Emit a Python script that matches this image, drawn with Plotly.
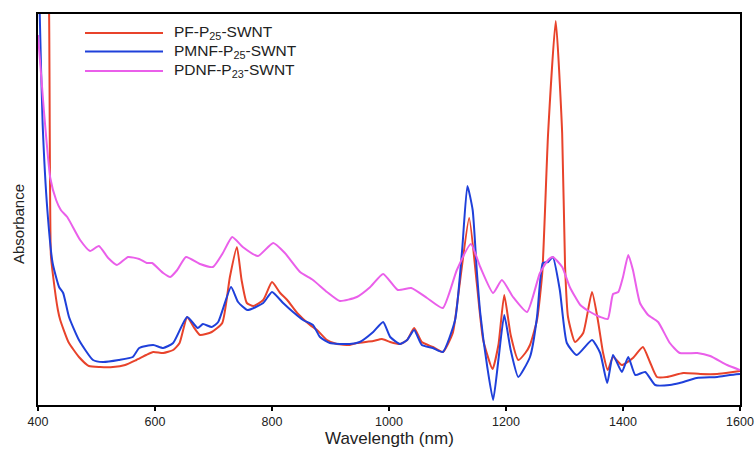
import plotly.graph_objects as go

# ---- data (wavelength in nm, absorbance in arbitrary units) ----
pf_wl = [400, 412, 419, 422, 426, 434, 438, 452, 470, 487, 506, 528, 549, 568, 585, 597, 614, 631,
         642, 655, 666, 677, 697, 715, 728, 740, 748, 757, 768, 785, 800, 814, 826, 843, 865, 877,
         894, 911, 933, 945, 973, 988, 1002, 1019, 1031, 1043, 1056, 1075, 1092, 1109, 1121, 1137,
         1150, 1161, 1177, 1187, 1197, 1208, 1221, 1233, 1241, 1253, 1262, 1272, 1285, 1296, 1301,
         1306, 1318, 1332, 1347, 1357, 1366, 1374, 1383, 1398, 1417, 1434, 1446, 1458, 1475, 1503,
         1532, 1561, 1588, 1600]
pf_abs = [9.0, 6.0, 3.9, 1.50, 1.28, 0.95, 0.85, 0.63, 0.48, 0.39, 0.38, 0.38, 0.40, 0.45, 0.50, 0.53, 0.52, 0.55,
          0.62, 0.88, 0.78, 0.70, 0.73, 0.82, 1.28, 1.58, 1.25, 1.02, 0.99, 1.05, 1.23, 1.12, 1.05, 0.92, 0.80, 0.75,
          0.65, 0.61, 0.60, 0.62, 0.64, 0.66, 0.63, 0.61, 0.65, 0.77, 0.63, 0.58, 0.53, 0.72, 1.22, 1.87,
          1.22, 0.65, 0.36, 0.60, 1.10, 0.70, 0.45, 0.52, 0.60, 0.85, 1.32, 2.72, 3.84, 2.72, 1.38,
          0.88, 0.63, 0.72, 1.13, 0.85, 0.52, 0.35, 0.48, 0.40, 0.47, 0.58, 0.43, 0.28, 0.28, 0.32,
          0.31, 0.31, 0.33, 0.34]

pmnf_wl = [400, 403, 408, 416, 425, 436, 443, 453, 470, 494, 511, 538, 562, 573, 597, 614, 631,
           655, 673, 682, 697, 708, 730, 742, 758, 785, 800, 819, 836, 853, 870, 882, 899, 933, 950,
           973, 990, 1002, 1019, 1031, 1043, 1056, 1075, 1092, 1113, 1125, 1134, 1143, 1150, 1156,
           1168, 1178, 1187, 1197, 1208, 1221, 1241, 1253, 1258, 1263, 1272, 1280, 1292, 1304, 1321,
           1347, 1361, 1373, 1383, 1398, 1409, 1421, 1438, 1455, 1480, 1497, 1526, 1561, 1583, 1600]
pmnf_abs = [5.0, 3.9, 2.8, 1.95, 1.42, 1.18, 1.12, 0.88, 0.65, 0.45, 0.43, 0.45, 0.48, 0.57, 0.60, 0.57, 0.62,
            0.88, 0.77, 0.81, 0.78, 0.83, 1.18, 1.03, 0.95, 1.02, 1.13, 1.02, 0.93, 0.85, 0.80, 0.68, 0.62, 0.61, 0.63,
            0.73, 0.83, 0.68, 0.61, 0.65, 0.75, 0.60, 0.57, 0.53, 0.85, 1.55, 2.19, 1.95, 1.35, 0.92,
            0.38, 0.05, 0.45, 0.90, 0.55, 0.28, 0.48, 0.88, 1.22, 1.42, 1.43, 1.48, 1.15, 0.62, 0.50,
            0.65, 0.52, 0.22, 0.50, 0.33, 0.48, 0.30, 0.33, 0.20, 0.20, 0.22, 0.27, 0.28, 0.30, 0.31]

pdnf_wl = [400, 410, 421, 431, 439, 450, 472, 489, 504, 520, 535, 554, 573, 586, 595, 614, 626, 638,
           653, 677, 699, 716, 732, 750, 776, 802, 822, 848, 870, 894, 916, 945, 968, 990, 1015, 1038,
           1065, 1092, 1116, 1140, 1156, 1178, 1193, 1212, 1236, 1258, 1272, 1280, 1296, 1309, 1327,
           1344, 1361, 1374, 1383, 1392, 1400, 1409, 1417, 1429, 1443, 1460, 1480, 1497, 1527, 1549,
           1578, 1600]
pdnf_abs = [3.7, 2.95, 2.27, 2.05, 1.95, 1.88, 1.65, 1.54, 1.59, 1.47, 1.40, 1.48, 1.46, 1.42, 1.42, 1.32, 1.28, 1.35,
            1.48, 1.41, 1.38, 1.52, 1.68, 1.58, 1.49, 1.62, 1.52, 1.33, 1.25, 1.13, 1.04, 1.08, 1.18, 1.31, 1.15, 1.17,
            1.07, 0.97, 1.35, 1.61, 1.38, 1.12, 1.25, 1.08, 0.93, 1.32, 1.45, 1.48, 1.38, 1.18, 1.00,
            0.93, 0.88, 0.86, 1.11, 1.13, 1.28, 1.50, 1.35, 1.02, 0.90, 0.83, 0.62, 0.52, 0.52, 0.49,
            0.40, 0.35]

names = ["PF-P<sub>25</sub>-SWNT", "PMNF-P<sub>25</sub>-SWNT", "PDNF-P<sub>23</sub>-SWNT"]
colors = ["#E8432B", "#1F40DA", "#EA5FEA"]
x_ticks = [400, 600, 800, 1000, 1200, 1400, 1600]

fig = go.Figure()
for wl, ab, nm, col in [(pf_wl, pf_abs, names[0], colors[0]),
                        (pmnf_wl, pmnf_abs, names[1], colors[1]),
                        (pdnf_wl, pdnf_abs, names[2], colors[2])]:
    fig.add_trace(go.Scatter(x=wl, y=ab, mode="lines", name=nm,
                             line=dict(color=col, width=2, shape="spline", smoothing=0.5),
                             showlegend=False))

# Body margin is removed by the post script, so the figure fills the window.
W, H = 756, 453
PL, PR, PT, PB = 38, 740, 14, 405          # plot box in window pixels
L, T = PL, PT
R = W - PR
B = H - PB

def px_x(px):
    return (px - PL) / (PR - PL)

def px_y(py):
    return (PB - py) / (PB - PT)

shapes = []
annotations = []
leg_rows = [33, 51.5, 71]
for i in range(3):
    yy = px_y(leg_rows[i])
    shapes.append(dict(type="line", xref="paper", yref="paper", x0=px_x(85), x1=px_x(163),
                       y0=yy, y1=yy, line=dict(color=colors[i], width=2.2)))
    annotations.append(dict(xref="paper", yref="paper", x=px_x(172), y=yy, text=names[i],
                            showarrow=False, xanchor="left", yanchor="middle",
                            font=dict(size=15.5, color="#222222")))

annotations.append(dict(xref="paper", yref="paper", x=px_x(18), y=px_y(224), text="Absorbance",
                        textangle=-90, showarrow=False, xanchor="center", yanchor="middle",
                        font=dict(size=15, color="#222222")))
annotations.append(dict(xref="paper", yref="paper", x=0.5, y=px_y(438), text="Wavelength (nm)",
                        showarrow=False, xanchor="center", yanchor="middle",
                        font=dict(size=17, color="#222222")))

fig.update_layout(
    width=W, height=H,
    margin=dict(l=L, r=R, t=T, b=B, autoexpand=False),
    paper_bgcolor="white", plot_bgcolor="white",
    font=dict(family="Liberation Sans, Arial, Helvetica, sans-serif", color="#222222"),
    shapes=shapes, annotations=annotations,
    xaxis=dict(range=[400, 1600], tickvals=x_ticks, ticktext=[str(v) for v in x_ticks],
               ticks="outside", ticklen=4, tickwidth=1.5, tickcolor="black",
               ticklabeloverflow="allow",
               showline=True, linecolor="black", linewidth=2, mirror=True, automargin=False,
               showgrid=False, zeroline=False, tickfont=dict(size=12.5, color="#222222")),
    yaxis=dict(range=[0, 3.91], showticklabels=False, ticks="", automargin=False,
               showline=True, linecolor="black", linewidth=2, mirror=True,
               showgrid=False, zeroline=False),
)

fig.write_html("out.html",
               config={"displayModeBar": False},
               post_script="document.body.style.margin='0px';document.body.style.overflow='hidden';")
